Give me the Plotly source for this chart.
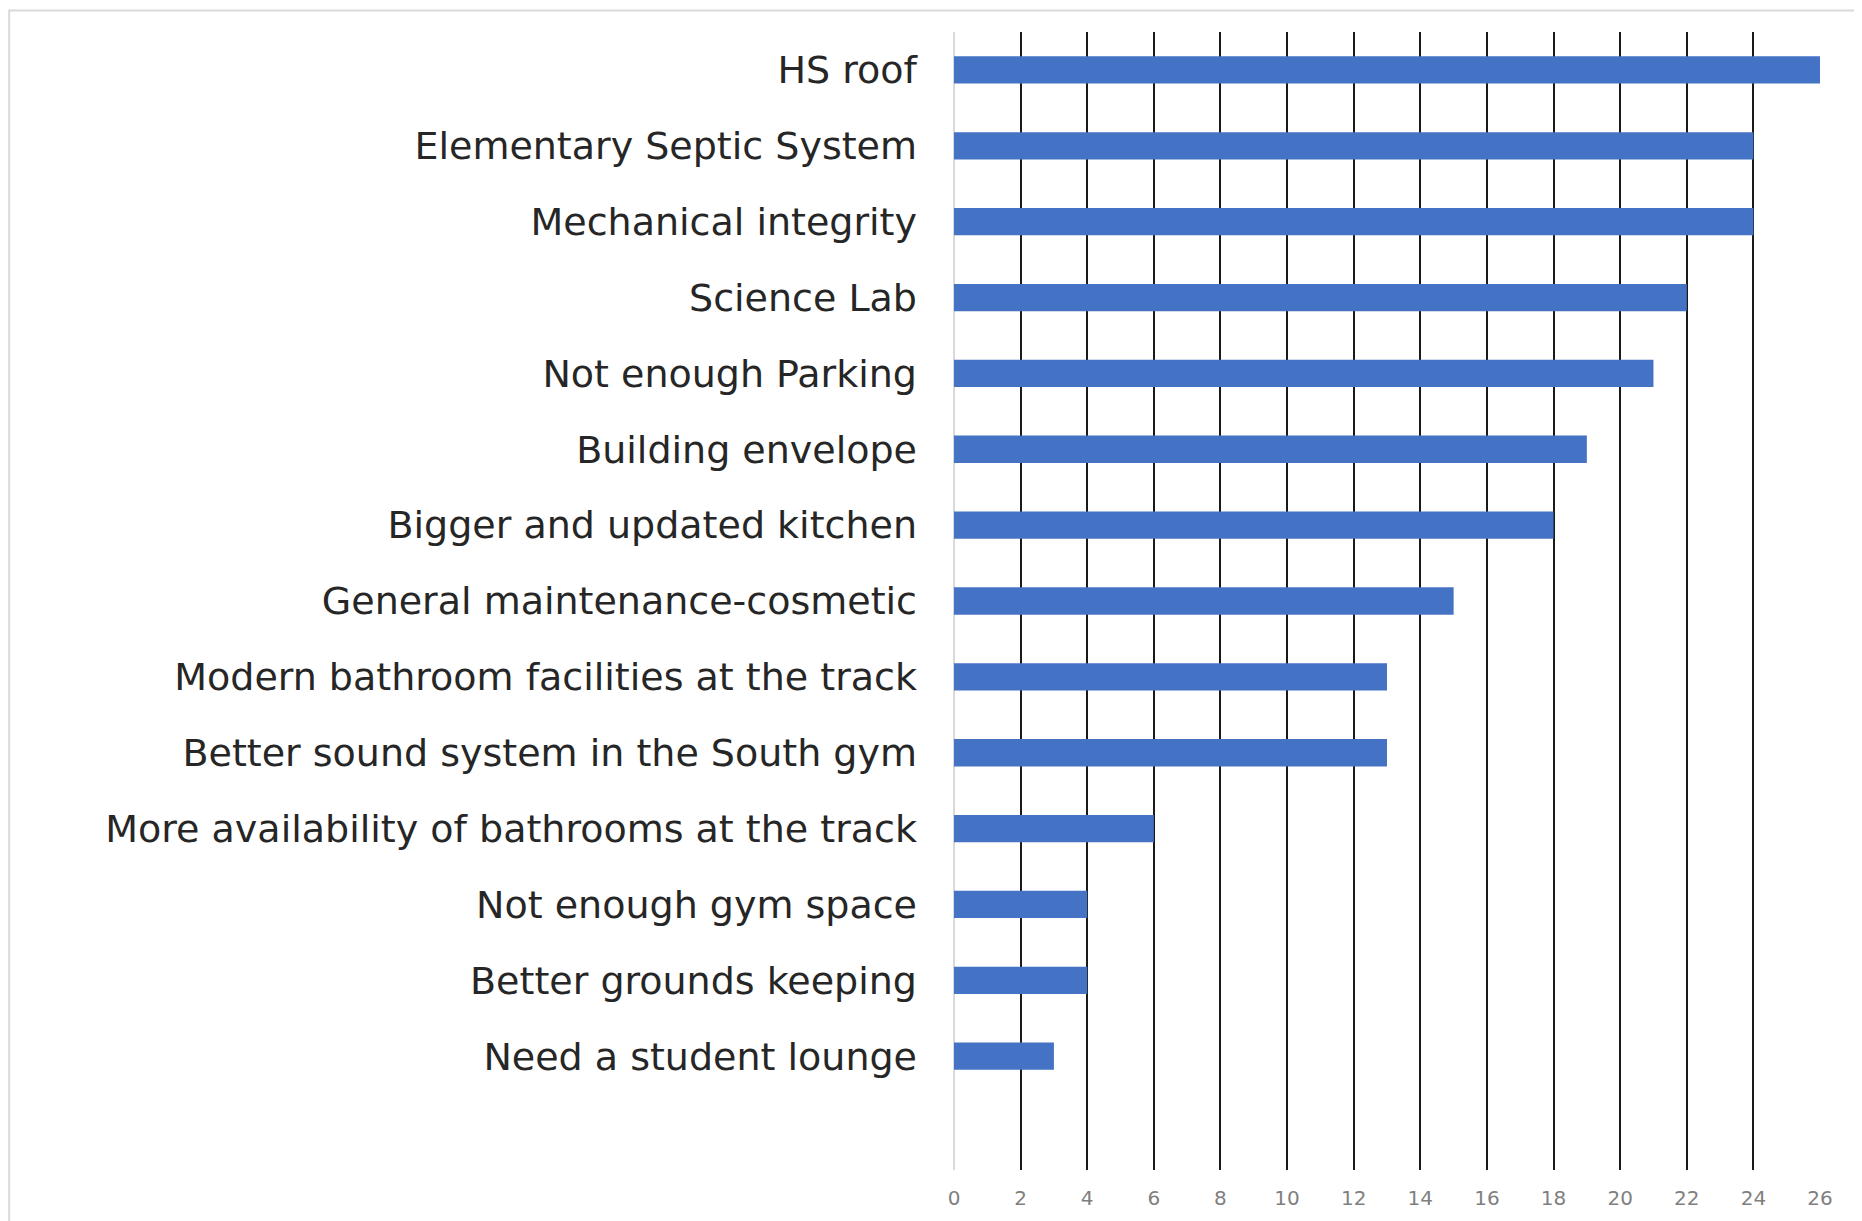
import plotly.graph_objects as go

# survey items, top to bottom
items = [
    "HS roof",
    "Elementary Septic System",
    "Mechanical integrity",
    "Science Lab",
    "Not enough Parking",
    "Building envelope",
    "Bigger and updated kitchen",
    "General maintenance-cosmetic",
    "Modern bathroom facilities at the track",
    "Better sound system in the South gym",
    "More availability of bathrooms at the track",
    "Not enough gym space",
    "Better grounds keeping",
    "Need a student lounge",
]
counts = [26, 24, 24, 22, 21, 19, 18, 15, 13, 13, 6, 4, 4, 3]
x_ticks = list(range(0, 27, 2))

fig = go.Figure(go.Bar(
    x=counts,
    y=items,
    orientation='h',
    marker=dict(color='#4472C4', line=dict(width=0)),
    width=0.36,
))

fig.update_layout(
    width=1862,
    height=1221,
    margin=dict(l=946, r=50, t=24, b=59),
    paper_bgcolor='white',
    plot_bgcolor='white',
    showlegend=False,
    font=dict(family='DejaVu Sans', color='#262626'),
    xaxis=dict(
        range=[0, 26],
        tickvals=x_ticks,
        showgrid=True,
        gridcolor='#1a1a1a',
        gridwidth=2,
        zeroline=True,
        zerolinecolor='#d9d9d9',
        zerolinewidth=2,
        showline=False,
        tickfont=dict(size=20, color='#7f7f7f'),
        ticklabelstandoff=14,
        fixedrange=True,
    ),
    yaxis=dict(
        categoryorder='array',
        categoryarray=items,
        range=[14.5, -0.5],
        showgrid=False,
        zeroline=False,
        showline=False,
        tickfont=dict(size=38, color='#262626'),
        ticklabelstandoff=36,
    ),
    shapes=[dict(
        type='rect', xref='paper', yref='paper',
        x0=-1.091, x1=1.2, y0=-0.2, y1=1.019,
        line=dict(color='#d9d9d9', width=2),
        fillcolor='rgba(0,0,0,0)',
        layer='below',
    )],
)

fig.write_html("out.html")
